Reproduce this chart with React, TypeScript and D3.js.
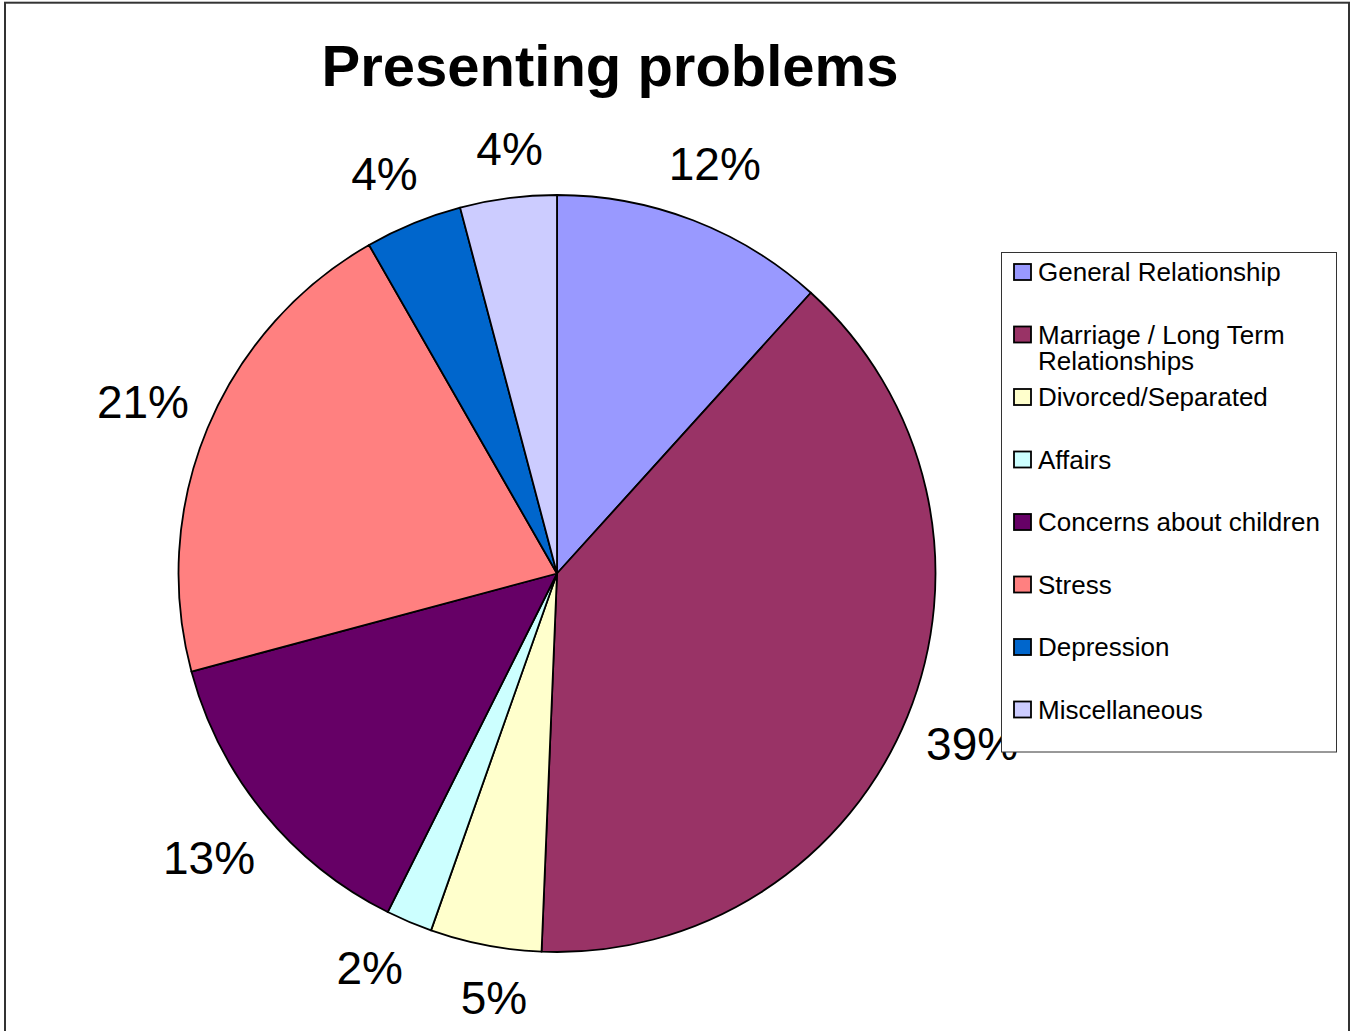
import React from 'react';
import * as d3 from 'd3';

// ---------- data ----------
const title = 'Presenting problems';
const categories = [
  'General Relationship',
  'Marriage / Long Term Relationships',
  'Divorced/Separated',
  'Affairs',
  'Concerns about children',
  'Stress',
  'Depression',
  'Miscellaneous',
];
const shares = [11.7, 38.95, 4.75, 1.98, 13.45, 20.9, 4.15, 4.12];
const colors = ['#9999FF', '#993366', '#FFFFCC', '#CCFFFF', '#660066', '#FF8080', '#0066CC', '#CCCCFF'];

// ---------- layout ----------
const W = 1351;
const H = 1031;
const FONT = "'Liberation Sans', Arial, Helvetica, sans-serif";
const cx = 557;
const cy = 573.5;
const R = 378.5;
const LABEL_FONT = 46;
const LABEL_GAP = 16;
const LABEL_HALF_H = 30;
const MIN_SEP = (17 * Math.PI) / 180;
const LEGEND = { x: 1001.5, y: 252.5, w: 335, h: 499.5, firstBaseline: 28.5, step: 62.5, textX: 1038, swatchX: 1014, lineH: 26, font: 26, maxTextW: 290 };

let ctx: CanvasRenderingContext2D | null = null;
function measure(text: string, size: number): number {
  if (!ctx) ctx = document.createElement('canvas').getContext('2d');
  if (!ctx) return text.length * size * 0.55;
  ctx.font = `${size}px ${FONT}`;
  return ctx.measureText(text).width;
}

function wrap(text: string, size: number, maxW: number): string[] {
  const words = text.split(' ');
  const lines: string[] = [];
  let cur = '';
  for (const w of words) {
    const t = cur ? cur + ' ' + w : w;
    if (cur && measure(t, size) > maxW) {
      lines.push(cur);
      cur = w;
    } else cur = t;
  }
  if (cur) lines.push(cur);
  return lines;
}

export default function App() {
  const pie = d3.pie<number>().sort(null).value((d) => d);
  const arcs = pie(shares);
  const arcGen = d3.arc<d3.PieArcDatum<number>>().innerRadius(0).outerRadius(R);
  const total = d3.sum(shares);

  // label angles with simple separation relaxation
  const angs = arcs.map((a) => (a.startAngle + a.endAngle) / 2);
  const n = angs.length;
  for (let it = 0; it < 100; it++) {
    for (let i = 0; i < n; i++) {
      const j = (i + 1) % n;
      let diff = angs[j] - angs[i];
      if (j === 0) diff += Math.PI * 2;
      if (diff < MIN_SEP) {
        const p = (MIN_SEP - diff) / 2;
        angs[i] -= p;
        angs[j] += p;
      }
    }
  }

  const labels = arcs.map((a, i) => {
    const txt = `${Math.round((a.data / total) * 100)}%`;
    const w = measure(txt, LABEL_FONT);
    const s = Math.sin(angs[i]);
    const c = -Math.cos(angs[i]);
    const dist = R + LABEL_GAP + (Math.abs(s) * w) / 2 + Math.abs(c) * LABEL_HALF_H;
    return { txt, x: cx + s * dist, y: cy + c * dist };
  });

  return (
    <svg
      width={W}
      height={H}
      style={{ position: 'absolute', left: 0, top: 0, background: '#fff' }}
      fontFamily={FONT}
    >
      <rect x={0} y={0} width={W} height={H} fill="#fff" />
      <rect x={5} y={2.7} width={1344} height={1100} fill="none" stroke="#333" strokeWidth={2} />
      <text x={610} y={86} textAnchor="middle" fontSize={58} fontWeight="bold" fill="#000">
        {title}
      </text>
      <g transform={`translate(${cx},${cy})`}>
        {arcs.map((a, i) => (
          <path key={i} d={arcGen(a) || ''} fill={colors[i]} stroke="#000" strokeWidth={1.8} strokeLinejoin="round" />
        ))}
      </g>
      {labels.map((l, i) => (
        <text key={i} x={l.x} y={l.y + LABEL_FONT * 0.358} textAnchor="middle" fontSize={LABEL_FONT} fill="#000">
          {l.txt}
        </text>
      ))}
      <g>
        <rect x={LEGEND.x} y={LEGEND.y} width={LEGEND.w} height={LEGEND.h} fill="#fff" stroke="#333" strokeWidth={1} />
        {categories.map((cat, i) => {
          const base = LEGEND.y + LEGEND.firstBaseline + i * LEGEND.step;
          const lines = wrap(cat, LEGEND.font, LEGEND.maxTextW);
          return (
            <g key={i}>
              <rect x={LEGEND.swatchX} y={base - 17} width={17} height={16} fill={colors[i]} stroke="#000" strokeWidth={1.8} />
              <text x={LEGEND.textX} y={base} fontSize={LEGEND.font} fill="#000">
                {lines.map((ln, k) => (
                  <tspan key={k} x={LEGEND.textX} dy={k === 0 ? 0 : LEGEND.lineH}>
                    {ln}
                  </tspan>
                ))}
              </text>
            </g>
          );
        })}
      </g>
    </svg>
  );
}
